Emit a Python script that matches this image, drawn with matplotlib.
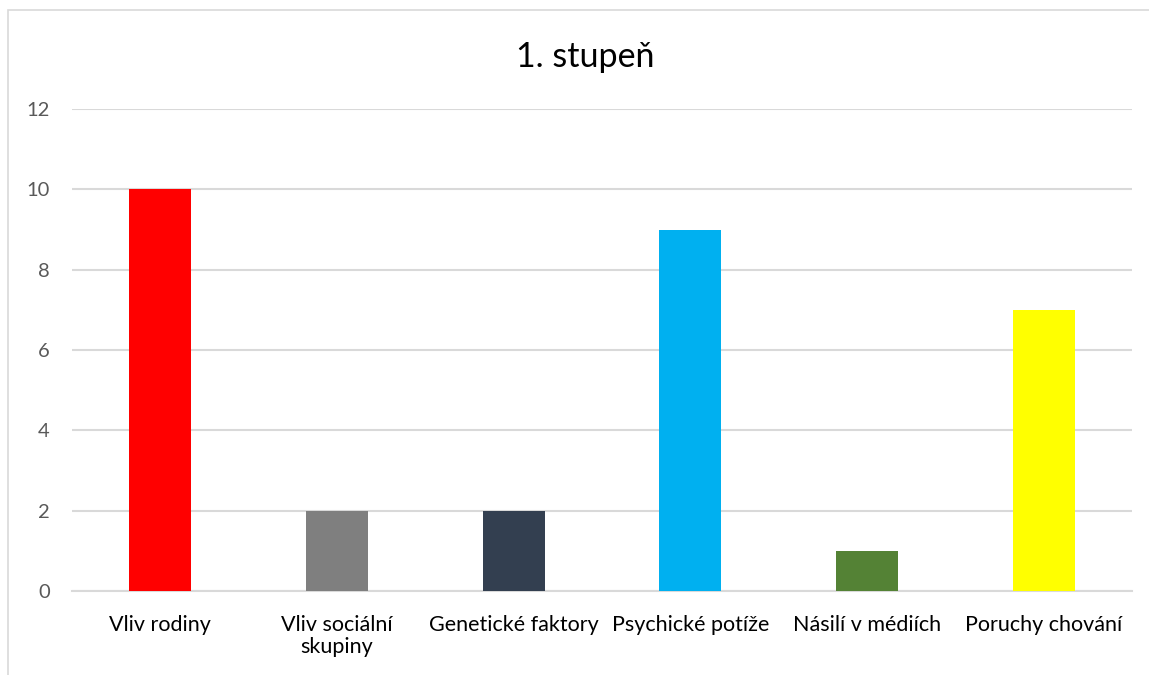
import matplotlib
matplotlib.use("Agg")
import matplotlib.pyplot as plt
from matplotlib.patches import Rectangle

categories = ["Vliv rodiny", "Vliv sociální\nskupiny", "Genetické faktory",
              "Psychické potíže", "Násilí v médiích", "Poruchy chování"]
values = [10, 2, 2, 9, 1, 7]
colors = ["#FF0000", "#7F7F7F", "#333F50", "#00B0F0", "#548235", "#FFFF00"]
yticks = [0, 2, 4, 6, 8, 10, 12]
title = "1. stupeň"

plt.rcParams['font.family'] = ['Lato', 'DejaVu Sans']

W, H = 1149, 675
fig = plt.figure(figsize=(W/100, H/100), dpi=100)
fig.patches.append(Rectangle((8/W, -0.1), 1.2, 1 - 10/H + 0.1, transform=fig.transFigure,
                             fill=False, edgecolor="#d9d9d9", linewidth=1.2))

ax = fig.add_axes([72/W, 1 - 591/H, (1132-72)/W, (591-109)/H])
x = range(len(categories))
ax.bar(x, values, width=0.35, color=colors, zorder=3)
ax.set_xlim(-0.5, len(categories) - 0.5)
ax.set_ylim(0, 12)
ax.set_yticks(yticks)
ax.set_xticks(list(x))
ax.set_xticklabels(categories, fontsize=15.5, color="#000000", linespacing=1.15)
ax.set_yticklabels([str(v) for v in yticks], fontsize=14.5, color="#595959")
ax.tick_params(axis='both', length=0)
ax.tick_params(axis='y', pad=16)
ax.tick_params(axis='x', pad=17)
ax.grid(axis='y', color="#d9d9d9", linewidth=1.5, zorder=0)
for s in ["top", "right", "left"]:
    ax.spines[s].set_visible(False)
ax.spines["bottom"].set_color("#d9d9d9")
ax.spines["bottom"].set_linewidth(1.5)
ax.set_facecolor("white")

fig.text(585/W, 1 - 57/H, title, ha="center", va="center",
         fontsize=24.5, color="#000000")

fig.savefig("out.png", dpi=100)
